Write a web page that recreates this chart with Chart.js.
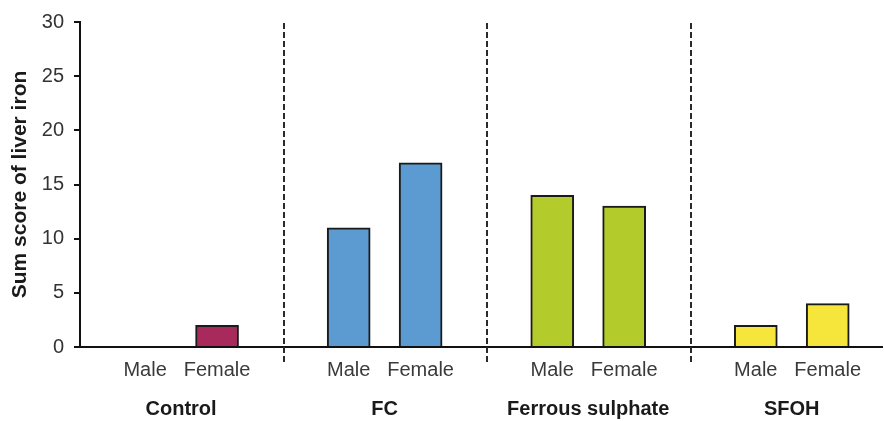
<!DOCTYPE html>
<html><head><meta charset="utf-8">
<script src="https://cdn.jsdelivr.net/npm/chart.js@4.4.1/dist/chart.umd.min.js"></script>
<style>html,body{margin:0;padding:0;background:#fff}canvas{display:block}</style>
</head><body><canvas id="c" width="884" height="421"></canvas>
<script>
const groups = ['Control', 'FC', 'Ferrous sulphate', 'SFOH'];
const sexes = ['Male', 'Female'];
const maleScores = [0, 11, 14, 2];
const femaleScores = [2, 17, 13, 4];
const groupColors = ['#a82a5c', '#5b9bd1', '#b4cc2b', '#f6e63b'];
const yTicks = [0, 5, 10, 15, 20, 25, 30];
const yTitle = 'Sum score of liver iron';

const GROUP_SPAN = 3, MALE_OFF = 0.96, FEMALE_OFF = 2.02;
const points = [], colors = [], labelTicks = [], groupTicks = [];
groups.forEach((g, i) => {
  const base = i * GROUP_SPAN;
  points.push({x: base + MALE_OFF, y: maleScores[i]});
  points.push({x: base + FEMALE_OFF, y: femaleScores[i]});
  colors.push(groupColors[i], groupColors[i]);
  labelTicks.push({value: base + MALE_OFF, label: sexes[0]}, {value: base + FEMALE_OFF, label: sexes[1]});
  groupTicks.push({value: base + (MALE_OFF + FEMALE_OFF) / 2, label: g});
});
const separators = groups.slice(1).map((g, i) => (i + 1) * GROUP_SPAN);
const X_MIN = 0, X_MAX = 11.82;

const separatorPlugin = {
  id: 'separators',
  afterDatasetsDraw(chart) {
    const {ctx, chartArea} = chart;
    const xs = chart.scales.x;
    ctx.save();
    ctx.strokeStyle = '#2a2a2a';
    ctx.lineWidth = 2;
    ctx.setLineDash([6, 3]);
    separators.forEach(v => {
      const px = Math.round(xs.getPixelForValue(v));
      ctx.beginPath();
      ctx.moveTo(px, chartArea.top + 1);
      ctx.lineTo(px, chartArea.bottom + 18);
      ctx.stroke();
    });
    ctx.restore();
  }
};

new Chart(document.getElementById('c'), {
  type: 'bar',
  data: {
    datasets: [{
      data: points,
      backgroundColor: ctx => (ctx.raw && ctx.raw.y === 0 ? 'rgba(0,0,0,0)' : colors[ctx.dataIndex]),
      borderColor: '#1a1a1a',
      borderWidth: ctx => (ctx.raw && ctx.raw.y === 0 ? 0 : 2),
      borderSkipped: 'start',
      barThickness: 43
    }]
  },
  options: {
    responsive: false,
    animation: false,
    devicePixelRatio: 1,
    layout: {padding: {top: 22, right: 2, left: 0, bottom: 0}},
    plugins: {legend: {display: false}, tooltip: {enabled: false}},
    scales: {
      x: {
        type: 'linear', position: 'bottom', weight: 0,
        min: X_MIN, max: X_MAX, offset: false,
        afterBuildTicks: s => { s.ticks = labelTicks.map(t => ({value: t.value})); },
        afterFit: s => { s.height = 35; },
        grid: {display: false, drawTicks: false, offset: false},
        border: {display: true, color: '#111', width: 2},
        ticks: {
          autoSkip: false, maxRotation: 0, padding: 11,
          color: '#3a3a3a',
          font: {family: 'Liberation Sans, Arial, sans-serif', size: 20},
          callback: (v, i) => labelTicks[i] ? labelTicks[i].label : ''
        }
      },
      x2: {
        type: 'linear', position: 'bottom', weight: 1,
        min: X_MIN, max: X_MAX, offset: false,
        afterBuildTicks: s => { s.ticks = groupTicks.map(t => ({value: t.value})); },
        afterFit: s => { s.height = 39; },
        grid: {display: false, drawTicks: false, offset: false},
        border: {display: false},
        ticks: {
          autoSkip: false, maxRotation: 0, padding: 15,
          color: '#1a1a1a',
          font: {family: 'Liberation Sans, Arial, sans-serif', size: 20, weight: 'bold'},
          callback: (v, i) => groupTicks[i] ? groupTicks[i].label : ''
        }
      },
      y: {
        min: 0, max: 30,
        afterBuildTicks: s => { s.ticks = yTicks.map(v => ({value: v})); },
        afterFit: s => { s.width = 80; },
        grid: {display: true, drawOnChartArea: false, drawTicks: true, tickLength: 6, color: '#111', lineWidth: 2},
        border: {display: true, color: '#111', width: 2},
        ticks: {
          padding: 10, color: '#333',
          font: {family: 'Liberation Sans, Arial, sans-serif', size: 20}
        },
        title: {
          display: true, text: yTitle, color: '#1a1a1a',
          padding: {top: 8, bottom: 0},
          font: {family: 'Liberation Sans, Arial, sans-serif', size: 21, weight: 'bold', lineHeight: 1.2}
        }
      }
    }
  },
  plugins: [separatorPlugin]
});
</script>
</body></html>
